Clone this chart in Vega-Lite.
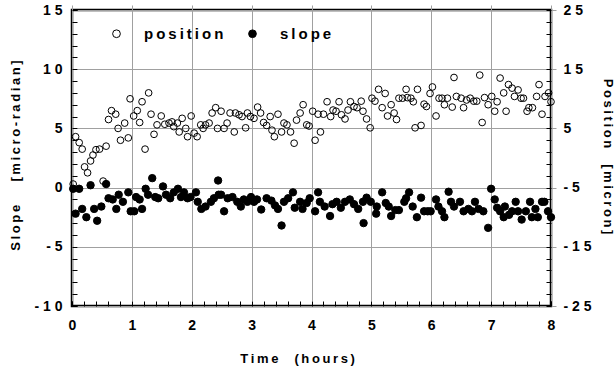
{
  "$schema": "https://vega.github.io/schema/vega-lite/v6.json",
  "width": 479,
  "height": 296,
  "autosize": {"type": "none"},
  "padding": {"left": 72, "top": 10, "right": 65, "bottom": 68},
  "background": "white",
  "config": {
    "view": {"stroke": "black", "strokeWidth": 2.5},
    "font": "Liberation Sans",
    "axis": {
      "labelFont": "Liberation Sans", "labelFontWeight": "bold", "labelFontSize": 14, "labelColor": "black",
      "titleFont": "Liberation Sans", "titleFontWeight": "bold", "titleFontSize": 13, "titleColor": "black",
      "tickColor": "black", "tickWidth": 1, "tickSize": 5, "offset": -5, "domain": false,
      "gridColor": "#a0a0a0", "gridWidth": 1, "labelFlush": false, "labelOverlap": false
    },
    "legend": {"labelFont": "Liberation Sans", "labelFontWeight": "bold", "labelFontSize": 15, "labelColor": "black"}
  },
  "datasets": {
    "pos": [
      {"t":0.02,"v":-4.4},{"t":0.06,"v":3.6},{"t":0.12,"v":2.6},{"t":0.17,"v":1.5},{"t":0.21,"v":-1.5},{"t":0.26,"v":-2.5},{"t":0.31,"v":-0.5},{"t":0.35,"v":0.5},{"t":0.40,"v":1.4},{"t":0.46,"v":1.5},{"t":0.52,"v":-3.9},{"t":0.57,"v":2.0},{"t":0.61,"v":6.5},{"t":0.66,"v":8.0},{"t":0.73,"v":7.4},{"t":0.77,"v":5.0},{"t":0.81,"v":3.0},{"t":0.88,"v":5.9},{"t":0.94,"v":3.4},{"t":0.97,"v":10.0},
      {"t":1.03,"v":7.1},{"t":1.09,"v":8.0},{"t":1.13,"v":6.0},{"t":1.17,"v":9.5},{"t":1.22,"v":1.5},{"t":1.28,"v":11.0},{"t":1.32,"v":7.4},{"t":1.37,"v":4.0},{"t":1.42,"v":5.6},{"t":1.49,"v":7.1},{"t":1.55,"v":5.7},{"t":1.62,"v":5.9},{"t":1.67,"v":6.1},{"t":1.70,"v":5.3},{"t":1.76,"v":5.9},{"t":1.79,"v":4.4},{"t":1.84,"v":6.7},{"t":1.90,"v":5.0},{"t":1.93,"v":3.6},{"t":1.99,"v":7.1},
      {"t":2.04,"v":4.2},{"t":2.09,"v":3.6},{"t":2.15,"v":5.6},{"t":2.19,"v":5.0},{"t":2.23,"v":5.6},{"t":2.29,"v":5.9},{"t":2.34,"v":7.6},{"t":2.40,"v":8.5},{"t":2.43,"v":5.0},{"t":2.49,"v":7.9},{"t":2.54,"v":5.0},{"t":2.59,"v":5.9},{"t":2.64,"v":7.6},{"t":2.71,"v":4.4},{"t":2.73,"v":7.6},{"t":2.79,"v":7.3},{"t":2.84,"v":7.0},{"t":2.90,"v":5.1},{"t":2.93,"v":7.6},{"t":2.98,"v":7.0},
      {"t":3.04,"v":6.7},{"t":3.10,"v":8.6},{"t":3.15,"v":7.6},{"t":3.20,"v":6.0},{"t":3.25,"v":5.5},{"t":3.31,"v":7.0},{"t":3.34,"v":4.7},{"t":3.38,"v":3.6},{"t":3.44,"v":7.4},{"t":3.50,"v":4.4},{"t":3.54,"v":5.9},{"t":3.59,"v":5.6},{"t":3.65,"v":4.4},{"t":3.71,"v":2.5},{"t":3.75,"v":6.4},{"t":3.81,"v":7.6},{"t":3.86,"v":9.0},{"t":3.92,"v":5.6},{"t":3.96,"v":5.4},
      {"t":4.02,"v":7.9},{"t":4.06,"v":3.0},{"t":4.11,"v":7.4},{"t":4.15,"v":4.4},{"t":4.20,"v":7.4},{"t":4.26,"v":9.5},{"t":4.32,"v":7.0},{"t":4.36,"v":8.1},{"t":4.41,"v":7.9},{"t":4.46,"v":9.5},{"t":4.50,"v":7.3},{"t":4.56,"v":6.6},{"t":4.61,"v":8.1},{"t":4.65,"v":9.5},{"t":4.71,"v":8.7},{"t":4.76,"v":8.5},{"t":4.83,"v":9.6},{"t":4.86,"v":7.9},{"t":4.92,"v":6.6},{"t":4.98,"v":5.1},
      {"t":5.01,"v":10.1},{"t":5.06,"v":9.6},{"t":5.12,"v":11.6},{"t":5.18,"v":8.5},{"t":5.23,"v":10.9},{"t":5.27,"v":7.1},{"t":5.33,"v":9.0},{"t":5.38,"v":7.6},{"t":5.42,"v":6.5},{"t":5.46,"v":10.1},{"t":5.52,"v":10.1},{"t":5.58,"v":11.6},{"t":5.60,"v":10.2},{"t":5.66,"v":10.1},{"t":5.70,"v":9.5},{"t":5.73,"v":5.1},{"t":5.77,"v":11.6},{"t":5.83,"v":5.5},{"t":5.88,"v":9.1},{"t":5.92,"v":8.7},{"t":5.98,"v":10.9},
      {"t":6.02,"v":12.0},{"t":6.08,"v":7.1},{"t":6.13,"v":10.1},{"t":6.18,"v":10.1},{"t":6.22,"v":9.0},{"t":6.27,"v":10.1},{"t":6.35,"v":8.6},{"t":6.38,"v":13.6},{"t":6.42,"v":10.4},{"t":6.50,"v":10.1},{"t":6.54,"v":8.5},{"t":6.59,"v":9.8},{"t":6.65,"v":10.1},{"t":6.71,"v":9.6},{"t":6.76,"v":9.6},{"t":6.81,"v":14.0},{"t":6.85,"v":6.0},{"t":6.89,"v":10.2},{"t":6.95,"v":9.0},
      {"t":7.01,"v":10.4},{"t":7.06,"v":7.9},{"t":7.10,"v":9.5},{"t":7.15,"v":13.5},{"t":7.21,"v":11.0},{"t":7.25,"v":7.9},{"t":7.29,"v":12.4},{"t":7.35,"v":11.8},{"t":7.39,"v":10.4},{"t":7.45,"v":11.5},{"t":7.50,"v":10.1},{"t":7.54,"v":10.1},{"t":7.60,"v":7.9},{"t":7.63,"v":8.5},{"t":7.69,"v":8.5},{"t":7.76,"v":10.4},{"t":7.80,"v":12.4},{"t":7.85,"v":7.4},{"t":7.90,"v":10.4},{"t":7.96,"v":11.0},{"t":8.00,"v":9.5}
    ],
    "slp": [
      {"t":0.02,"v":-0.1},{"t":0.06,"v":-2.2},{"t":0.12,"v":-0.1},{"t":0.17,"v":-1.8},{"t":0.24,"v":-2.5},{"t":0.31,"v":0.2},{"t":0.37,"v":-1.8},{"t":0.42,"v":-2.8},{"t":0.49,"v":-1.6},{"t":0.57,"v":0.3},{"t":0.61,"v":-0.9},{"t":0.68,"v":-1.0},{"t":0.74,"v":-1.8},{"t":0.78,"v":-0.6},{"t":0.85,"v":-1.2},{"t":0.94,"v":-0.4},{"t":0.98,"v":-2.0},
      {"t":1.04,"v":-2.0},{"t":1.07,"v":-0.8},{"t":1.13,"v":-1.0},{"t":1.17,"v":-1.8},{"t":1.23,"v":-0.1},{"t":1.27,"v":-0.6},{"t":1.34,"v":0.8},{"t":1.39,"v":-0.8},{"t":1.44,"v":-0.9},{"t":1.52,"v":0.1},{"t":1.57,"v":-0.6},{"t":1.64,"v":-0.9},{"t":1.70,"v":-0.4},{"t":1.77,"v":-0.1},{"t":1.82,"v":-0.8},{"t":1.87,"v":-0.4},{"t":1.93,"v":-0.9},{"t":1.98,"v":-0.8},
      {"t":2.07,"v":-0.4},{"t":2.10,"v":-1.2},{"t":2.16,"v":-1.8},{"t":2.23,"v":-1.6},{"t":2.32,"v":-1.2},{"t":2.37,"v":-0.9},{"t":2.44,"v":0.6},{"t":2.45,"v":-0.6},{"t":2.49,"v":-0.6},{"t":2.54,"v":-2.0},{"t":2.60,"v":-0.9},{"t":2.68,"v":-0.8},{"t":2.76,"v":-1.2},{"t":2.82,"v":-1.6},{"t":2.87,"v":-1.0},{"t":2.93,"v":-1.2},{"t":2.99,"v":-0.8},
      {"t":3.04,"v":-1.2},{"t":3.09,"v":-1.0},{"t":3.16,"v":-1.85},{"t":3.25,"v":-0.9},{"t":3.33,"v":-1.1},{"t":3.39,"v":-1.5},{"t":3.44,"v":-1.8},{"t":3.50,"v":-3.2},{"t":3.54,"v":-1.2},{"t":3.61,"v":-0.9},{"t":3.69,"v":-0.4},{"t":3.72,"v":-1.7},{"t":3.81,"v":-1.2},{"t":3.85,"v":-1.8},{"t":3.92,"v":-1.3},{"t":3.97,"v":-0.9},
      {"t":4.06,"v":-2.0},{"t":4.11,"v":-0.4},{"t":4.14,"v":-1.2},{"t":4.22,"v":-1.6},{"t":4.31,"v":-2.4},{"t":4.35,"v":-1.4},{"t":4.42,"v":-1.2},{"t":4.49,"v":-1.7},{"t":4.56,"v":-1.2},{"t":4.64,"v":-1.0},{"t":4.71,"v":-1.4},{"t":4.78,"v":-1.8},{"t":4.86,"v":-1.2},{"t":4.87,"v":-3.0},{"t":4.92,"v":-0.85},{"t":4.99,"v":-1.2},
      {"t":5.08,"v":-2.2},{"t":5.09,"v":-1.6},{"t":5.18,"v":-0.4},{"t":5.24,"v":-1.3},{"t":5.29,"v":-1.6},{"t":5.33,"v":-2.4},{"t":5.40,"v":-1.9},{"t":5.46,"v":-1.9},{"t":5.55,"v":-1.2},{"t":5.58,"v":-0.9},{"t":5.63,"v":-0.4},{"t":5.69,"v":-1.6},{"t":5.76,"v":-2.5},{"t":5.83,"v":-0.85},{"t":5.88,"v":-2.0},{"t":5.94,"v":-2.0},{"t":5.99,"v":-2.0},
      {"t":6.08,"v":-1.0},{"t":6.12,"v":-1.6},{"t":6.18,"v":-2.0},{"t":6.22,"v":-2.5},{"t":6.29,"v":-0.35},{"t":6.33,"v":-1.2},{"t":6.38,"v":-1.6},{"t":6.48,"v":-1.2},{"t":6.54,"v":-2.0},{"t":6.62,"v":-1.8},{"t":6.68,"v":-2.0},{"t":6.73,"v":-1.2},{"t":6.79,"v":-1.8},{"t":6.87,"v":-2.0},{"t":6.95,"v":-3.4},
      {"t":7.00,"v":-0.1},{"t":7.06,"v":-1.0},{"t":7.10,"v":-1.7},{"t":7.15,"v":-2.0},{"t":7.21,"v":-2.5},{"t":7.23,"v":-1.6},{"t":7.30,"v":-2.3},{"t":7.35,"v":-2.0},{"t":7.41,"v":-1.2},{"t":7.45,"v":-2.0},{"t":7.51,"v":-2.7},{"t":7.58,"v":-2.0},{"t":7.65,"v":-1.2},{"t":7.68,"v":-2.5},{"t":7.74,"v":-1.8},{"t":7.78,"v":-2.5},{"t":7.85,"v":-1.2},{"t":7.89,"v":-1.2},{"t":7.95,"v":-2.0},{"t":8.00,"v":-2.5}
    ]
  },
  "encoding": {
    "x": {
      "field": "t", "type": "quantitative",
      "scale": {"domain": [0, 8], "nice": false, "zero": false},
      "axis": {
        "orient": "bottom",
        "values": [0,0.2,0.4,0.6,0.8,1,1.2,1.4,1.6,1.8,2,2.2,2.4,2.6,2.8,3,3.2,3.4,3.6,3.8,4,4.2,4.4,4.6,4.8,5,5.2,5.4,5.6,5.8,6,6.2,6.4,6.6,6.8,7,7.2,7.4,7.6,7.8,8],
        "labelExpr": "datum.value % 1 === 0 ? toString(datum.value) : ''",
        "grid": true,
        "gridOpacity": {"condition": {"test": "datum.value % 1 === 0", "value": 1}, "value": 0},
        "labelPadding": 12,
        "title": "T\u2009i\u2009m\u2009e\u2009\u00a0\u00a0\u00a0\u2009(\u2009h\u2009o\u2009u\u2009r\u2009s\u2009)",
        "titleBaseline": "middle",
        "titleX": 225,
        "titleY": 57
      }
    }
  },
  "layer": [
    {
      "data": {"name": "slp"},
      "transform": [{"calculate": "'slope'", "as": "series"}],
      "mark": {"type": "point", "filled": true, "shape": "circle", "size": 55, "stroke": "black", "strokeWidth": 1, "opacity": 1},
      "encoding": {
        "y": {
          "field": "v", "type": "quantitative",
          "scale": {"domain": [-10, 15], "nice": false, "zero": false},
          "axis": {
            "orient": "left",
            "values": [-10,-9,-8,-7,-6,-5,-4,-3,-2,-1,0,1,2,3,4,5,6,7,8,9,10,11,12,13,14,15],
            "labelExpr": "datum.value % 5 === 0 ? join(split(toString(datum.value), ''), ' ') : ''",
            "grid": true,
            "gridOpacity": {"condition": {"test": "datum.value % 5 === 0", "value": 1}, "value": 0},
            "labelPadding": 10,
            "title": "S\u2009l\u2009o\u2009p\u2009e\u2009\u00a0\u00a0\u00a0\u00a0\u00a0\u2009[\u2009m\u2009i\u2009c\u2009r\u2009o\u2009-\u2009r\u2009a\u2009d\u2009i\u2009a\u2009n\u2009]",
            "titleBaseline": "middle",
            "titleX": -62,
            "titleY": 145
          }
        },
        "fill": {
          "field": "series", "type": "nominal",
          "scale": {"domain": ["position", "slope"], "range": ["transparent", "black"]},
          "legend": {
            "title": null, "orient": "none", "direction": "horizontal", "legendX": 37, "legendY": 16,
            "symbolType": "circle", "symbolSize": 60, "symbolStrokeColor": "black", "symbolStrokeWidth": 1,
            "labelOffset": 20, "columnPadding": 21, "padding": 0,
            "labelExpr": "join(split(datum.label, ''), '\u2009')"
          }
        }
      }
    },
    {
      "data": {"name": "pos"},
      "transform": [{"calculate": "'position'", "as": "series"}],
      "mark": {"type": "point", "filled": true, "shape": "circle", "size": 45, "stroke": "black", "strokeWidth": 1, "opacity": 1},
      "encoding": {
        "y": {
          "field": "v", "type": "quantitative",
          "scale": {"domain": [-25, 25], "nice": false, "zero": false},
          "axis": {
            "orient": "right",
            "values": [-25,-23,-21,-19,-17,-15,-13,-11,-9,-7,-5,-3,-1,1,3,5,7,9,11,13,15,17,19,21,23,25],
            "labelExpr": "(datum.value + 25) % 10 === 0 ? join(split(toString(datum.value), ''), ' ') : ''",
            "grid": false,
            "labelPadding": 12,
            "title": "P\u2009o\u2009s\u2009i\u2009t\u2009i\u2009o\u2009n\u2009\u00a0\u00a0\u00a0\u2009[\u2009m\u2009i\u2009c\u2009r\u2009o\u2009n\u2009]",
            "titleBaseline": "middle",
            "titleX": 61,
            "titleY": 146
          }
        },
        "fill": {"field": "series", "type": "nominal"}
      }
    }
  ],
  "resolve": {"scale": {"y": "independent"}}
}
